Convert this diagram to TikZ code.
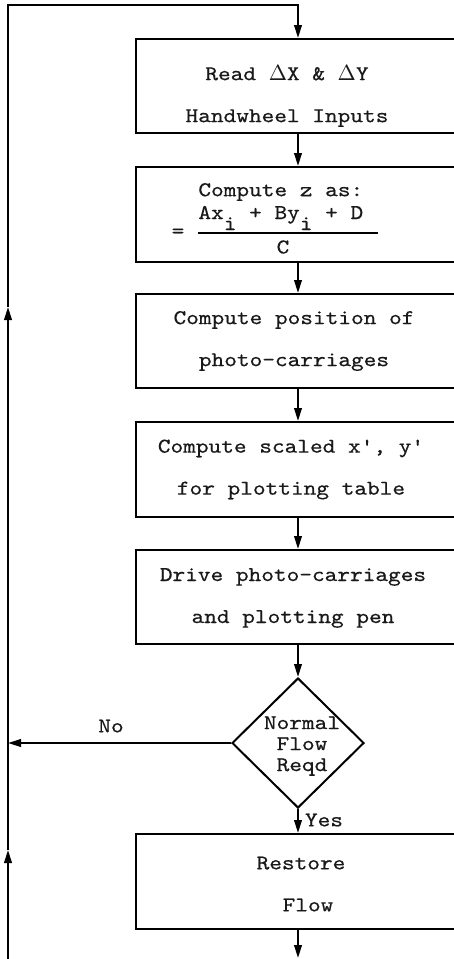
\documentclass[tikz,border=0pt]{standalone}
\usepackage{fontspec}
\usetikzlibrary{arrows.meta,shapes.geometric}
\newfontfamily\typewriter{lmmono10-regular}[Extension=.otf,FakeStretch=1.15,FakeBold=0.45]

\tikzset{
  tw/.style={font={\typewriter\fontsize{10.5}{21}\selectfont}, inner sep=0pt, align=center, text=black!90},
  twtight/.style={tw, font={\typewriter\fontsize{10.5}{10.5}\selectfont}},
  stepbox/.style={draw, line width=1pt, rectangle, minimum width=162pt, inner sep=0pt},
  decision/.style={draw, line width=1pt, diamond, minimum width=66pt, minimum height=65pt, inner sep=0pt},
  flow/.style={line width=1pt, -{Triangle[length=6.5pt,width=3.8pt]}},
  plain/.style={line width=1pt}
}

\begin{document}
\begin{tikzpicture}[x=0.5pt,y=-0.5pt]
  \useasboundingbox (0,0) rectangle (454,959);
  \clip (0,0) rectangle (454,959);
  \fill[white] (0,0) rectangle (454,959);

  % process boxes (they run off the right edge)
  \node[stepbox, minimum height=47pt] (b1) at (298,86) {};
  \node[stepbox, minimum height=47.5pt] (b2) at (298,214.5) {};
  \node[stepbox, minimum height=47pt] (b3) at (298,341) {};
  \node[stepbox, minimum height=47.5pt] (b4) at (298,469.5) {};
  \node[stepbox, minimum height=47pt] (b5) at (298,597) {};
  \node[decision] (dec) at (298,743) {};
  \node[stepbox, minimum height=47.5pt] (b6) at (298,881.5) {};

  % box texts
  \node[tw] (t1) at (287,96) {Read $\Delta$X \& $\Delta$Y\\Handwheel Inputs};
  \node[tw, anchor=west] (t2a) at (198,192) {Compute z as:};
  \node[tw, anchor=base west] (t2b) at (198,219) {Ax\raisebox{-5.5pt}{i} + By\raisebox{-5.5pt}{i} + D};
  \node[tw] (t2c) at (283,247) {C};
  \node[tw] (t2eq) at (178,233) {=};
  \draw[plain] (198,233) -- (378,233);
  \node[tw] (t3) at (294,341) {Compute position of\\photo-carriages};
  \node[tw] (t4) at (291,469.5) {Compute scaled x', y'\\for plotting table};
  \node[tw] (t5) at (293,598) {Drive photo-carriages\\and plotting pen};
  \node[twtight] (td) at (302,746) {Normal\\Flow\\Reqd};
  \node[tw] (t6) at (301,884) {Restore\\\hspace*{7pt}Flow};

  % branch labels
  \node[tw] (lno) at (111,726) {No};
  \node[tw] (lyes) at (324,820) {Yes};

  % return loop on the left
  \coordinate (lb) at (8,970);
  \coordinate (m2) at (8,850);
  \coordinate (m1) at (8,307);
  \coordinate (lt) at (8,5);
  \coordinate (nojoin) at (8,743);
  \coordinate (out) at (298,958);

  % main flow
  \draw[flow] (b1.south) -- (b2.north);
  \draw[flow] (b2.south) -- (b3.north);
  \draw[flow] (b3.south) -- (b4.north);
  \draw[flow] (b4.south) -- (b5.north);
  \draw[flow] (b5.south) -- (dec.north);
  \draw[flow] (dec.south) -- (b6.north);
  \draw[flow] (b6.south) -- (out);
  \draw[flow] (dec.west) -- (nojoin);

  \draw[flow] (lb) -- (m2);
  \draw[flow] (m2) -- (m1);
  \draw[flow] (m1) -- (lt) -| (b1.north);
\end{tikzpicture}
\end{document}
